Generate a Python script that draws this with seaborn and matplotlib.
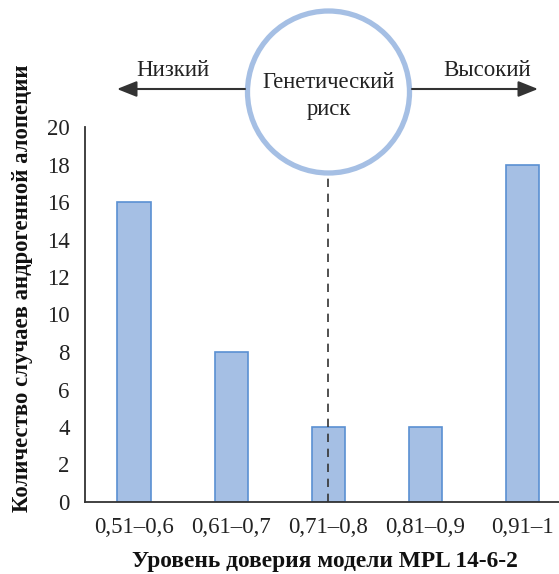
import matplotlib
matplotlib.use("Agg")
import matplotlib.pyplot as plt
import seaborn as sns
import pandas as pd
from matplotlib.patches import Circle

categories = ["0,51–0,6", "0,61–0,7", "0,71–0,8", "0,81–0,9", "0,91–1"]
counts = [16, 8, 4, 4, 18]
y_ticks = [0, 2, 4, 6, 8, 10, 12, 14, 16, 18, 20]

sns.set_theme(style="white")
plt.rcParams['font.family'] = ['Liberation Serif', 'DejaVu Serif']

W, H = 559, 574
fig = plt.figure(figsize=(W / 100, H / 100), dpi=100)
ax = fig.add_axes([85 / W, (H - 502) / H, (571 - 85) / W, 375 / H])

df = pd.DataFrame({"cat": categories, "n": counts})
sns.barplot(data=df, x="cat", y="n", ax=ax, width=0.35,
            color="#a5bfe4", edgecolor="#5a90d2", linewidth=1.2, saturation=1)
ax.set_xlim(-0.51, 4.5)
ax.set_ylim(0, 20)
ax.set_yticks(y_ticks)
ax.set_yticklabels([str(v) for v in y_ticks], fontsize=16.5, color="#222222")
ax.set_xticks(range(len(categories)))
ax.set_xticklabels(categories, fontsize=16.5, color="#222222")
ax.tick_params(axis="both", length=0, pad=11)
ax.tick_params(axis="x", pad=11)
for s in ["top", "right"]:
    ax.spines[s].set_visible(False)
for s in ["left", "bottom"]:
    ax.spines[s].set_color("#333333")
    ax.spines[s].set_linewidth(1.3)
ax.set_xlabel("")
ax.set_ylabel("")

# dashed divider at middle category
ax.plot([2, 2], [0, 17.5], ls=(0, (5, 4)), color="#333333", lw=1.2, clip_on=False, zorder=5)

# overlay in pixel coordinates
ov = fig.add_axes([0, 0, 1, 1], facecolor="none")
ov.set_xlim(0, W)
ov.set_ylim(H, 0)
ov.axis("off")
ov.text(325, 561, "Уровень доверия модели MPL 14-6-2", ha="center", va="center",
        fontsize=16.8, fontweight="bold", color="#111111")
ov.text(23, 288, "Количество случаев андрогенной алопеции", ha="center", va="center",
        rotation=90, fontsize=16.4, fontweight="bold", color="#111111")
ov.add_patch(Circle((328.5, 92), 81, fill=True, facecolor="white",
                    edgecolor="#a5bfe4", lw=3.8))
ov.annotate("", xy=(117, 89), xytext=(245, 89),
            arrowprops=dict(arrowstyle="-|>,head_length=1.0,head_width=0.4",
                            color="#333333", lw=1.5, shrinkA=0, shrinkB=0))
ov.annotate("", xy=(538, 89), xytext=(412, 89),
            arrowprops=dict(arrowstyle="-|>,head_length=1.0,head_width=0.4",
                            color="#333333", lw=1.5, shrinkA=0, shrinkB=0))
ov.text(173, 71, "Низкий", ha="center", va="center", fontsize=16.5, color="#222222")
ov.text(487, 71, "Высокий", ha="center", va="center", fontsize=16.5, color="#222222")
ov.text(328.5, 83, "Генетический", ha="center", va="center", fontsize=16.3, color="#222222")
ov.text(328.5, 110, "риск", ha="center", va="center", fontsize=16.3, color="#222222")

fig.savefig("out.png", dpi=100)
